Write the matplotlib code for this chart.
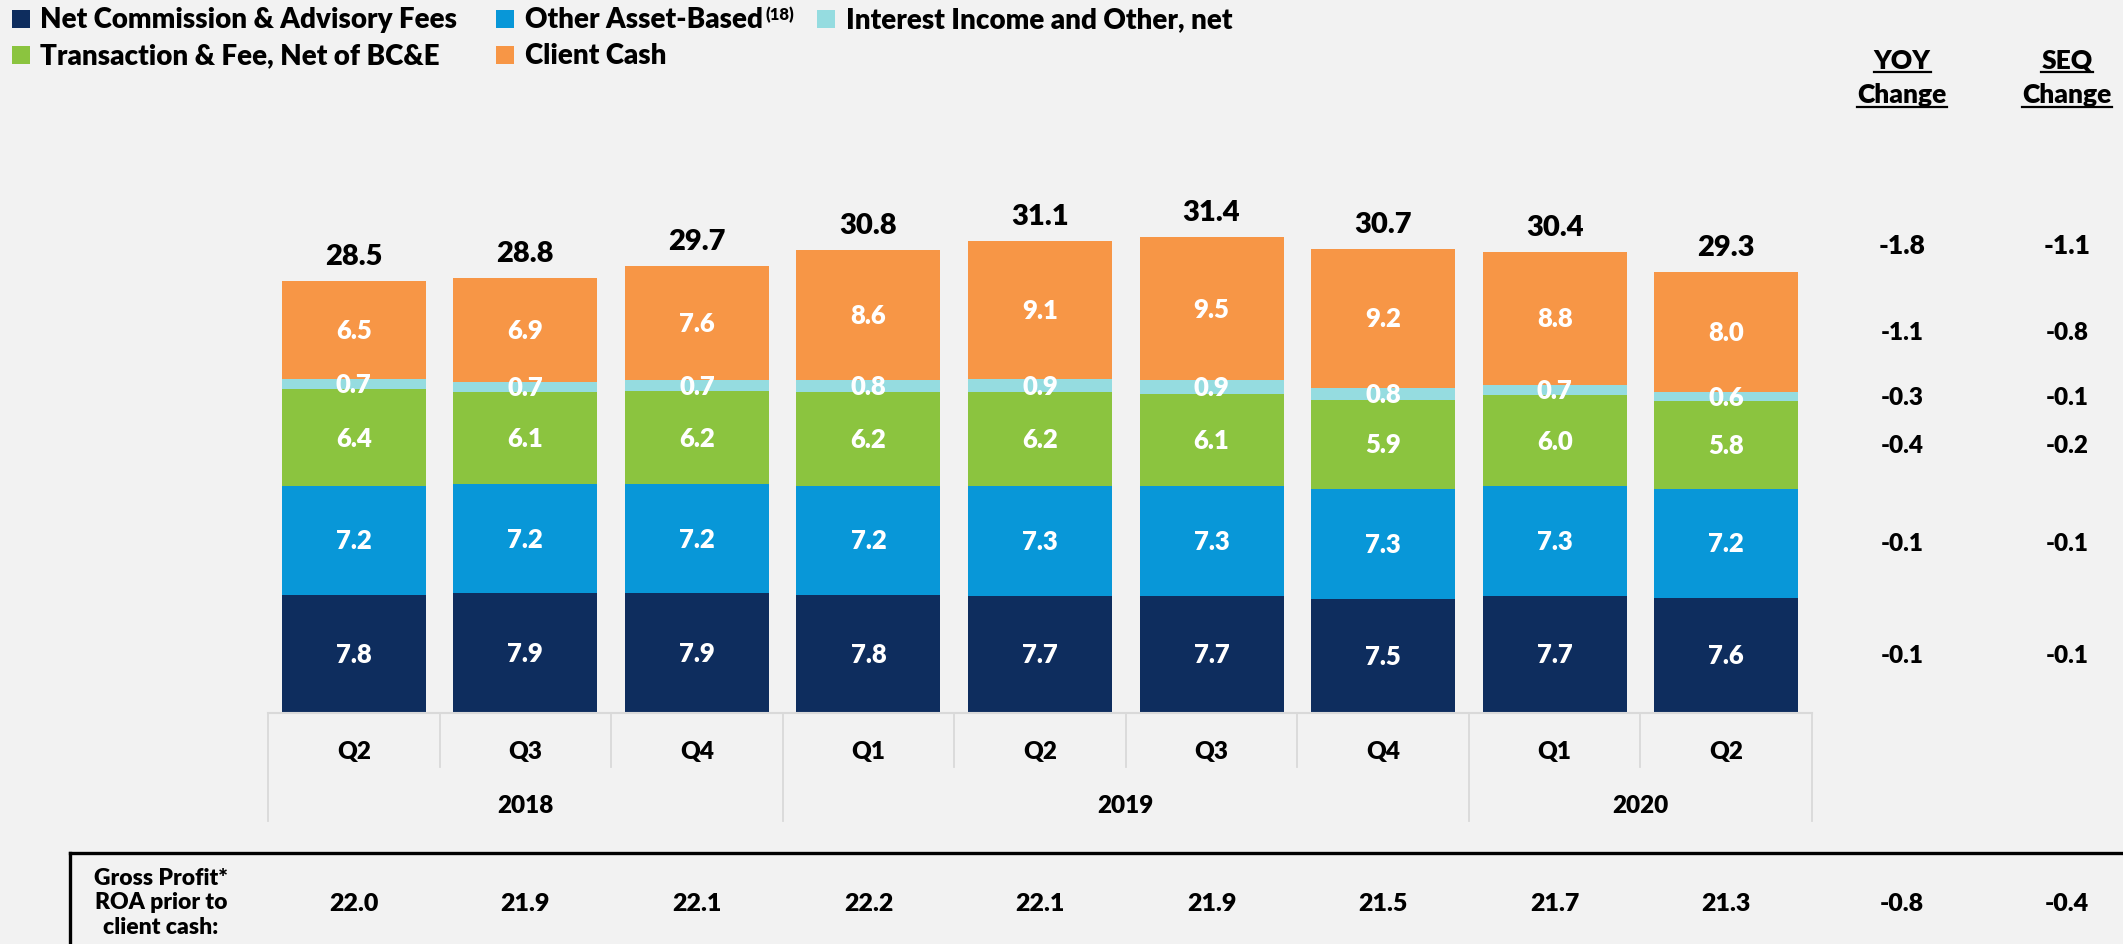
import numpy as np
import matplotlib
matplotlib.use("Agg")
import matplotlib.pyplot as plt
from matplotlib.transforms import blended_transform_factory
from matplotlib.lines import Line2D
from matplotlib.patches import Rectangle

# ---------------- data ----------------
quarters = ["Q2", "Q3", "Q4", "Q1", "Q2", "Q3", "Q4", "Q1", "Q2"]
years = ["2018", "2019", "2020"]
year_counts = [3, 4, 2]

series_names = ["Net Commission & Advisory Fees", "Other Asset-Based",
                "Transaction & Fee, Net of BC&E", "Interest Income and Other, net",
                "Client Cash"]
net_commission = [7.8, 7.9, 7.9, 7.8, 7.7, 7.7, 7.5, 7.7, 7.6]
other_asset = [7.2, 7.2, 7.2, 7.2, 7.3, 7.3, 7.3, 7.3, 7.2]
transaction_fee = [6.4, 6.1, 6.2, 6.2, 6.2, 6.1, 5.9, 6.0, 5.8]
interest_income = [0.7, 0.7, 0.7, 0.8, 0.9, 0.9, 0.8, 0.7, 0.6]
client_cash = [6.5, 6.9, 7.6, 8.6, 9.1, 9.5, 9.2, 8.8, 8.0]
totals = [28.5, 28.8, 29.7, 30.8, 31.1, 31.4, 30.7, 30.4, 29.3]

# changes: total, then per series (bottom -> top order)
yoy_total, seq_total = -1.8, -1.1
yoy_series = [-0.1, -0.1, -0.4, -0.3, -1.1]
seq_series = [-0.1, -0.1, -0.2, -0.1, -0.8]

gp_roa = [22.0, 21.9, 22.1, 22.2, 22.1, 21.9, 21.5, 21.7, 21.3]
gp_yoy, gp_seq = -0.8, -0.4

# colours in series order: net, other asset, transaction, interest, client cash
colors = ["#0E2D5E", "#0897D8", "#8BC43F", "#95DCE0", "#F79646"]
# legend order (as laid out in reference)
legend_order = [0, 1, 3, 2, 4]

# ---------------- figure ----------------
W, H = 2123, 945
plt.rcParams["font.family"] = ["Lato", "DejaVu Sans"]
WT = "heavy"
plt.rcParams["font.weight"] = WT
BG = "#F2F2F2"
fig = plt.figure(figsize=(W / 100, H / 100), dpi=100, facecolor=BG)


def fx(x):
    return x / W


def fy(y):
    return 1 - y / H


base_y, top_y, pxu = 713.5, 120, 15.1
ax = fig.add_axes([fx(268), fy(base_y), fx(1812) - fx(268), (base_y - top_y) / H])
ax.set_facecolor("none")
ax.axis("off")

x = np.arange(len(quarters))
series = [net_commission, other_asset, transaction_fee, interest_income, client_cash]
bottom = np.zeros(len(x))
last_centers = []
for vals, color in zip(series, colors):
    vals = np.array(vals)
    ax.bar(x, vals, 0.84, bottom=bottom, color=color, lw=0)
    centers = bottom + vals / 2
    for xi, c, v in zip(x, centers, vals):
        ax.text(xi, c, f"{v:.1f}", ha="center", va="center", color="white",
                fontsize=18.5, fontweight=WT)
    last_centers.append(centers[-1])
    bottom = bottom + vals

for xi, top, t in zip(x, bottom, totals):
    ax.annotate(f"{t:.1f}", (xi, top), xytext=(0, 18), textcoords="offset points",
                ha="center", va="center", fontsize=21, fontweight=WT, color="black")

ax.set_xlim(-0.5, len(x) - 0.5)
ax.set_ylim(0, (base_y - top_y) / pxu)

# ---------------- category axis ----------------
trans = blended_transform_factory(ax.transData, fig.transFigure)
grid_c = "#D9D9D9"
fig.add_artist(Line2D([-0.5, len(x) - 0.5], [fy(base_y), fy(base_y)], transform=trans,
                      color=grid_c, lw=1.5))
year_bounds = set(np.concatenate([[0], np.cumsum(year_counts)]) - 0.5)
for b in np.arange(-0.5, len(x)):
    long = b in year_bounds
    fig.add_artist(Line2D([b, b], [fy(base_y), fy(822 if long else 768)], transform=trans,
                          color=grid_c, lw=1.3))
for xi, q in zip(x, quarters):
    ax.text(xi, fy(752), q, transform=trans, ha="center", va="center",
            fontsize=17.5, fontweight=WT)
starts = np.concatenate([[0], np.cumsum(year_counts)[:-1]])
for s, n, yr in zip(starts, year_counts, years):
    ax.text(s + (n - 1) / 2, fy(806), yr, transform=trans, ha="center", va="center",
            fontsize=17.5, fontweight=WT)

# ---------------- right columns ----------------
trans_r = blended_transform_factory(fig.transFigure, ax.transData)
col_x = [1902, 2067]
for cx, tot_v, vals in zip(col_x, [yoy_total, seq_total], [yoy_series, seq_series]):
    ax.annotate(f"{tot_v:.1f}", (fx(cx), bottom[-1]), xycoords=trans_r, xytext=(0, 19),
                textcoords="offset points", ha="center", va="center",
                fontsize=19, fontweight=WT)
    for c, v in zip(last_centers, vals):
        ax.text(fx(cx), c, f"{v:.1f}", transform=trans_r, ha="center", va="center",
                fontsize=17.5, fontweight=WT)

headers = []
for cx, h in zip(col_x, ["YOY", "SEQ"]):
    t1 = fig.text(fx(cx), fy(61), h, ha="center", va="center", fontsize=19, fontweight=WT)
    t2 = fig.text(fx(cx), fy(95), "Change", ha="center", va="center", fontsize=19,
                  fontweight=WT)
    headers.append((t1, 73))
    headers.append((t2, 108))

# ---------------- gross profit row ----------------
fig.add_artist(Line2D([fx(70), 1.0], [fy(854), fy(854)], color="black", lw=2.4))
fig.add_artist(Line2D([fx(70), fx(70)], [fy(854), 0.0], color="black", lw=2.4))
fig.text(fx(161), fy(903), "Gross Profit*\nROA prior to\nclient cash:", ha="center",
         va="center", multialignment="center", fontsize=16.5, fontweight=WT,
         linespacing=1.2)
for xi, v in zip(x, gp_roa):
    ax.text(xi, fy(904), f"{v:.1f}", transform=trans, ha="center", va="center",
            fontsize=18, fontweight=WT)
for cx, v in zip(col_x, [gp_yoy, gp_seq]):
    fig.text(fx(cx), fy(904), f"{v:.1f}", ha="center", va="center", fontsize=18,
             fontweight=WT)

# ---------------- legend ----------------
leg_pos = [(12, 40, 20), (496, 525, 20), (817, 846, 20), (12, 40, 56), (496, 525, 56)]
leg_texts = []
for (sx, tx, cy), idx in zip(leg_pos, legend_order):
    fig.add_artist(Rectangle((fx(sx), fy(cy + 9)), 18 / W, 18 / H, transform=fig.transFigure,
                             color=colors[idx], lw=0))
    t = fig.text(fx(tx), fy(cy), series_names[idx], ha="left", va="center",
                 fontsize=20, fontweight=WT)
    leg_texts.append((idx, t, cy))

fig.canvas.draw()
renderer = fig.canvas.get_renderer()
for idx, t, cy in leg_texts:
    if idx == 1:
        bb = t.get_window_extent(renderer)
        fig.text(bb.x1 / W + 2 / W, fy(cy - 5), "(18)", ha="left", va="center",
                 fontsize=12, fontweight=WT)
for t, uy in headers:
    bb = t.get_window_extent(renderer)
    fig.add_artist(Line2D([bb.x0 / W, bb.x1 / W], [fy(uy), fy(uy)], color="black", lw=1.6))

fig.savefig("out.png", dpi=100, facecolor=BG)
